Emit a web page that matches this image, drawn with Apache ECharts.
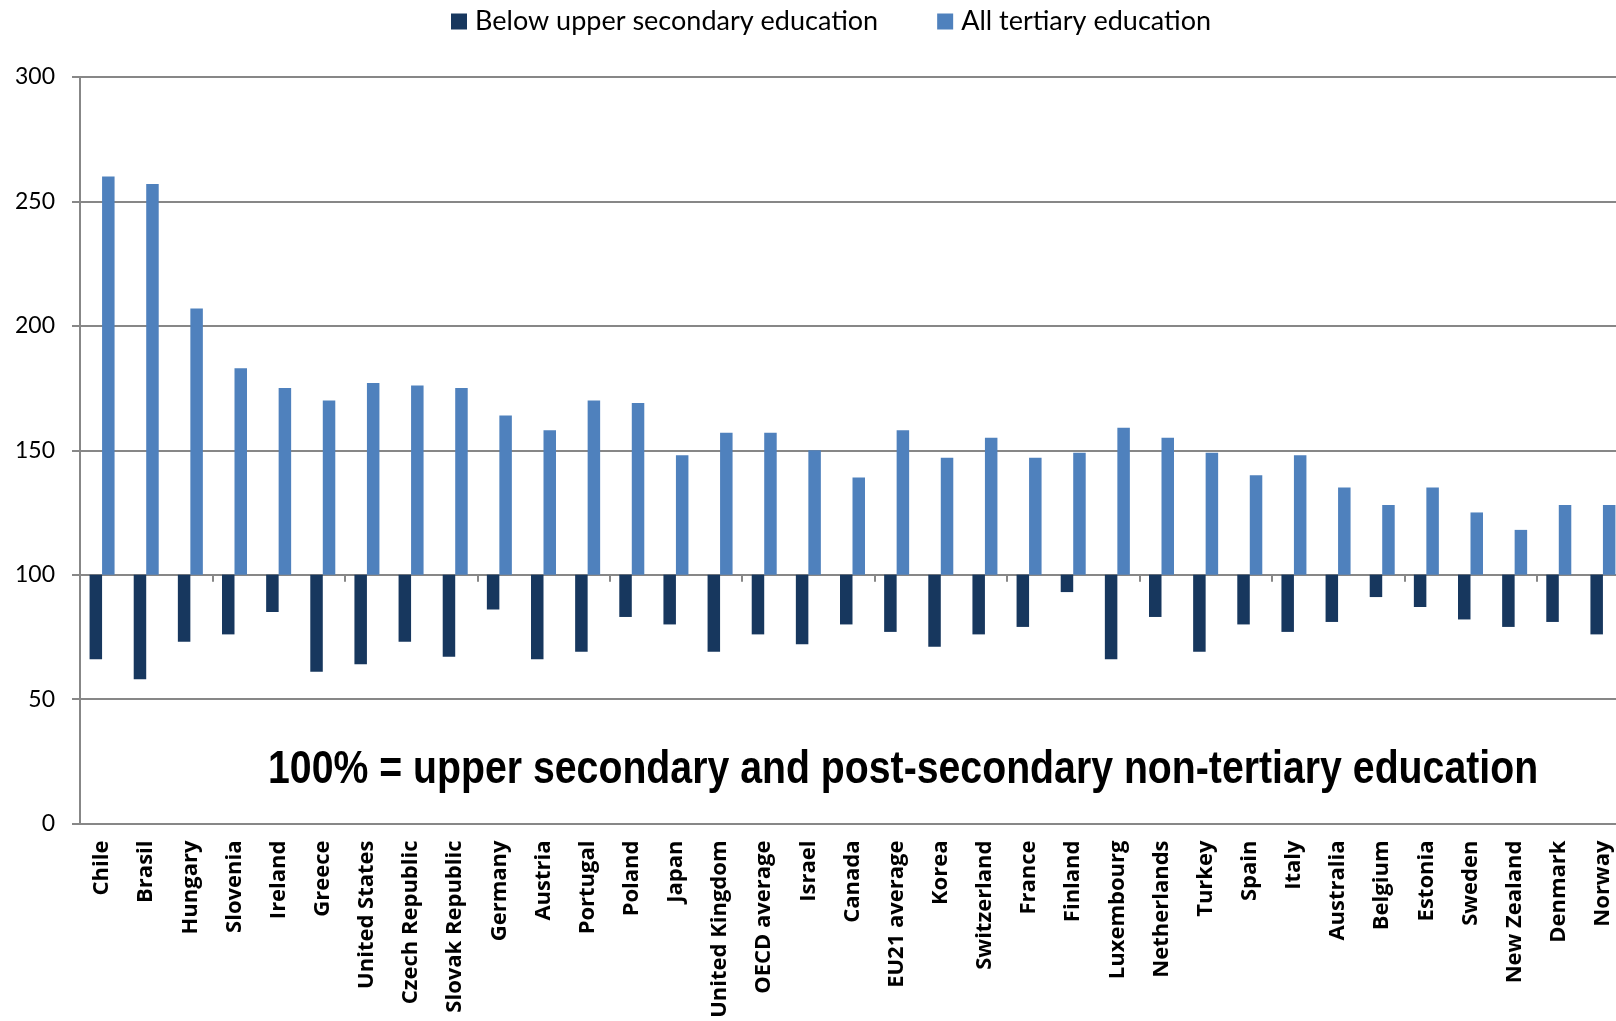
<!DOCTYPE html>
<html>
<head>
<meta charset="utf-8">
<script src="https://cdn.jsdelivr.net/npm/echarts@6/dist/echarts.min.js"></script>
<style>
html,body{margin:0;padding:0;background:#fff;overflow:hidden;width:1616px;height:1021px;}
#chart{width:1640px;height:1021px;}
</style>
</head>
<body>
<div id="chart"></div>
<script>
const categories = ["Chile","Brasil","Hungary","Slovenia","Ireland","Greece","United States","Czech Republic","Slovak Republic","Germany","Austria","Portugal","Poland","Japan","United Kingdom","OECD average","Israel","Canada","EU21 average","Korea","Switzerland","France","Finland","Luxembourg","Netherlands","Turkey","Spain","Italy","Australia","Belgium","Estonia","Sweden","New Zealand","Denmark","Norway"];
const belowUpperSecondary = [66,58,73,76,85,61,64,73,67,86,66,69,83,80,69,76,72,80,77,71,76,79,93,66,83,69,80,77,81,91,87,82,79,81,76];
const allTertiary = [260,257,207,183,175,170,177,176,175,164,158,170,169,148,157,157,150,139,158,147,155,147,149,159,155,149,140,148,135,128,135,125,118,128,128];
const yTicks = [0,50,100,150,200,250,300];
const baseline = 100;

const chart = echarts.init(document.getElementById('chart'), null, {renderer:'canvas'});
const gray = '#878787';
const option = {
  animation:false,
  backgroundColor:'#ffffff',
  legend:{
    left:446, top:3,
    itemWidth:16, itemHeight:16, itemGap:59,
    icon:'rect',
    textStyle:{fontFamily:'Lato, "Open Sans", sans-serif', fontSize:27, color:'#000', padding:[0,0,0,3]},
    data:['Below upper secondary education','All tertiary education']
  },
  grid:{left:80, top:77, width:1545, height:746.5, containLabel:false},
  xAxis:[
    {type:'category', data:categories, gridIndex:0,
     axisLine:{onZero:true, lineStyle:{color:gray, width:2}},
     axisTick:{show:true, length:7, lineStyle:{color:gray, width:2}},
     axisLabel:{show:false}},
    {type:'category', data:categories, gridIndex:0, position:'bottom',
     axisLine:{onZero:false, show:false}, axisTick:{show:false},
     axisLabel:{rotate:90, interval:0, margin:17, padding:[6,0,0,0], fontFamily:'"Open Sans", Lato, sans-serif', fontWeight:'bold', fontSize:22, color:'#000'}}
  ],
  yAxis:{
    type:'value', min:yTicks[0]-baseline, max:yTicks[yTicks.length-1]-baseline, interval:50,
    axisLine:{show:true, lineStyle:{color:gray, width:2}},
    axisTick:{show:true, length:8, lineStyle:{color:gray, width:2}},
    splitLine:{show:true, lineStyle:{color:gray, width:2}},
    axisLabel:{margin:25, fontFamily:'Lato, "Open Sans", sans-serif', fontSize:23, color:'#000',
      formatter:v => String(v + baseline)}
  },
  series:[
    {name:'Below upper secondary education', type:'bar', xAxisIndex:0,
     data:belowUpperSecondary.map(v => v - baseline),
     barWidth:12.5, barGap:'0%', itemStyle:{color:'#17375E'}},
    {name:'All tertiary education', type:'bar', xAxisIndex:0,
     data:allTertiary.map(v => v - baseline),
     barWidth:12.5, barGap:'0%', itemStyle:{color:'#4F81BD'}}
  ],
  graphic:[
    {type:'text', x:268, y:793, scaleX:0.853, z:100,
     style:{text:'100% = upper secondary and post-secondary non-tertiary education',
       font:'bold 46px "Liberation Sans", Arial, sans-serif', fill:'#000', textVerticalAlign:'bottom'}}
  ]
};
chart.setOption(option);
</script>
</body>
</html>
